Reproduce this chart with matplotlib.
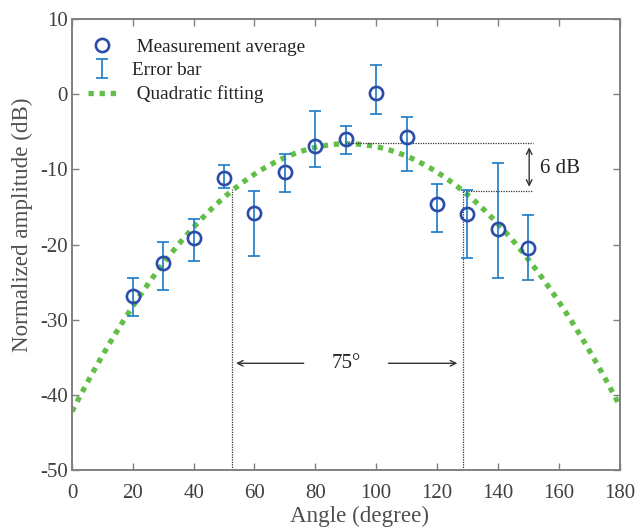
import numpy as np
import matplotlib.pyplot as plt

plt.rcParams['font.family'] = ['Liberation Serif', 'DejaVu Serif']

# Measured data
angles = [20, 30, 40, 50, 60, 70, 80, 90, 100, 110, 120, 130, 140, 150]
means = [-26.8, -22.4, -19.1, -11.2, -15.8, -10.3, -6.9, -6.0, 0.1, -5.7, -14.6, -16.0, -18.0, -20.4]
err_top = [-24.5, -19.6, -16.6, -9.4, -12.9, -7.9, -2.3, -4.3, 3.9, -3.0, -11.9, -12.7, -9.1, -16.1]
err_bot = [-29.5, -26.0, -22.2, -12.5, -21.5, -13.0, -9.7, -8.0, -2.6, -10.2, -18.3, -21.8, -24.5, -24.7]

angles = np.array(angles)
means = np.array(means)
lower = means - np.array(err_bot)
upper = np.array(err_top) - means

# Quadratic fit
coef = np.polyfit(angles, means, 2)
xf = np.linspace(0, 180, 400)
yf = np.polyval(coef, xf)

c_marker = '#2B4DA8'
c_err = '#1A7AC6'
c_fit = '#62BE46'
c_text = '#404040'
c_dot = '#333333'

fig = plt.figure(figsize=(6.41, 5.32), dpi=100)
ax = fig.add_axes([0.1123, 0.1165, 0.8542, 0.8478])

h_pts, = ax.plot(angles, means, 'o', ms=9.5, mfc='none', mec=c_marker, mew=1.9,
                 label=' Measurement average', zorder=4)
h_err = ax.errorbar(angles, means, yerr=[lower, upper], fmt='none', ecolor=c_err,
                    elinewidth=1.2, capsize=4, capthick=1.2, label='Error bar', zorder=3)
h_fit, = ax.plot(xf, yf, color=c_fit, lw=3.8, ls=(0, (1, 1.1)), dash_capstyle='butt',
                 label=' Quadratic fitting', zorder=2)

# -6 dB beamwidth annotation
peak = -6.5
level = -12.9
xl, xr = 52.6, 128.4
ax.plot([xl, xl], [-50, -12.6], ls=(0, (1, 1)), color=c_dot, lw=0.9)
ax.plot([xr, xr], [-50, level], ls=(0, (1, 1)), color=c_dot, lw=0.9)
ax.plot([89.8, 151.6], [peak, peak], ls=(0, (1, 1)), color=c_dot, lw=0.9)
ax.plot([xr, 151.6], [level, level], ls=(0, (1, 1)), color=c_dot, lw=0.9)
ax.annotate('', xy=(150.3, peak - 0.2), xytext=(150.3, level + 0.2),
            arrowprops=dict(arrowstyle='<->', color=c_dot, lw=1.0))
ax.text(154, -9.9, '6 dB', fontsize=15, va='center', ha='left', color='#222222')

ax.annotate('', xy=(xl + 0.4, -35.8), xytext=(77.1, -35.8),
            arrowprops=dict(arrowstyle='->', color=c_dot, lw=1.0))
ax.annotate('', xy=(xr - 0.8, -35.8), xytext=(103.1, -35.8),
            arrowprops=dict(arrowstyle='->', color=c_dot, lw=1.0))
ax.text(90.3, -35.8, '75°', fontsize=15, va='center', ha='center', color='#222222')

ax.set_xlim(0, 180)
ax.set_ylim(-50, 10)
ax.set_xticks(np.arange(0, 181, 20))
ax.set_yticks(np.arange(-50, 11, 10))
ax.set_yticklabels([str(v) for v in range(-50, 11, 10)])
ax.tick_params(direction='in', top=True, right=True, length=5, width=1,
               colors='#808080', labelcolor=c_text, labelsize=15)
ax.tick_params(axis='x', pad=10)
ax.tick_params(axis='y', pad=3)
for s in ax.spines.values():
    s.set_color('#808080')
    s.set_linewidth(1.4)

ax.set_xlabel('Angle (degree)', fontsize=16.6, color='#505050', va='center')
ax.xaxis.set_label_coords(0.526, -0.102)
ax.set_ylabel('Normalized amplitude (dB)', fontsize=16.6, color='#505050', va='center')
ax.yaxis.set_label_coords(-0.091, 0.543)

leg = ax.legend([h_pts, h_err, h_fit],
                [' Measurement average', 'Error bar', ' Quadratic fitting'],
                loc='upper left', bbox_to_anchor=(0.0, 0.993), frameon=False,
                fontsize=13.8, handlelength=1.45, borderpad=0, borderaxespad=0.85,
                labelspacing=0.32, handletextpad=0.85)
for t in leg.get_texts():
    t.set_color('#222222')

fig.savefig('out.png', dpi=100)
